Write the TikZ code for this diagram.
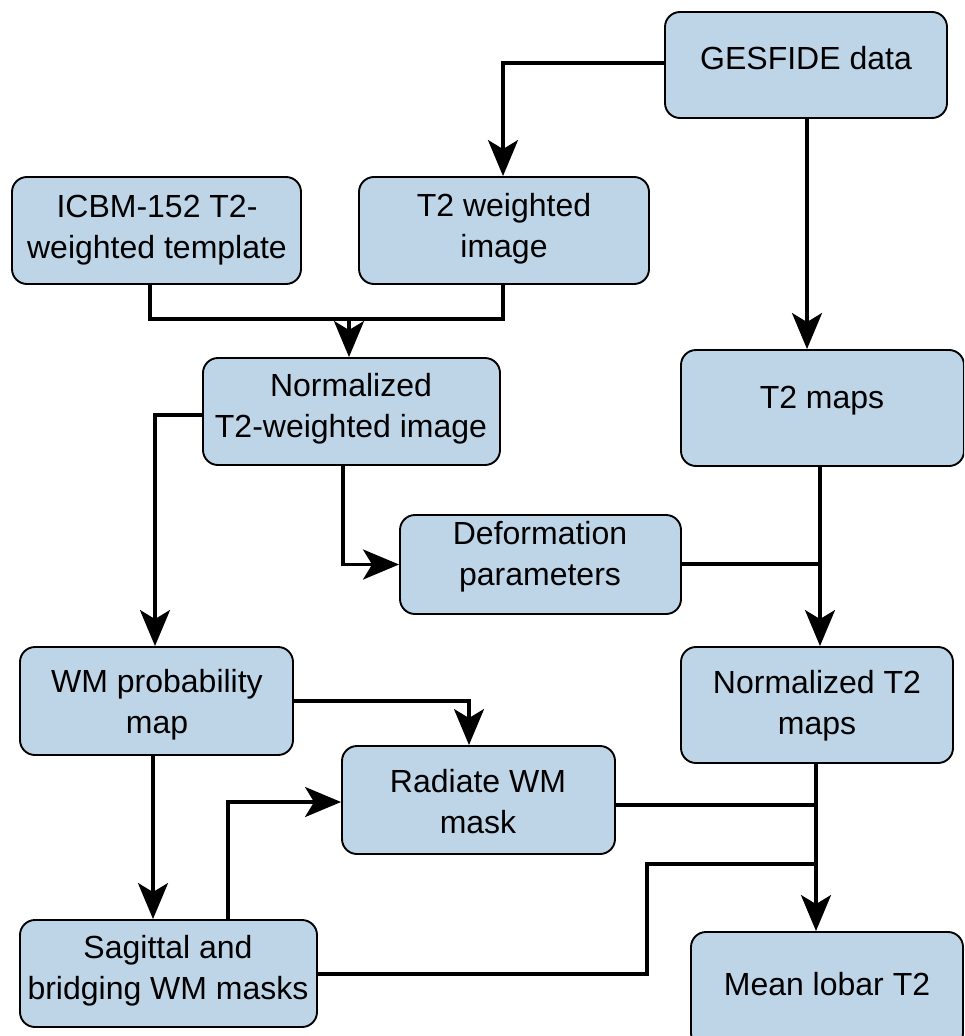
\documentclass[tikz,border=0pt]{standalone}
\usepackage{fontspec}
\setmainfont{Liberation Sans}
\usetikzlibrary{arrows.meta}
\definecolor{boxfill}{RGB}{190,213,232}
\tikzset{
  box/.style={draw=black, line width=1.9pt, fill=boxfill, rounded corners=15pt, inner sep=0pt},
  txt/.style={align=center, inner sep=0pt, font=\fontsize{32}{41}\selectfont},
  conn/.style={line width=3.2pt, draw=black},
  arr/.style={conn, -{Stealth[length=36pt, width=30pt, inset=9pt]}}
}
\begin{document}
\begin{tikzpicture}[x=1pt,y=-1pt]
\useasboundingbox (0,0) rectangle (964,1036);
\begin{scope}
\clip (0,0) rectangle (964,1036);
% boxes
\node[box, minimum width=282pt, minimum height=106pt] (ges) at (806,65) {};
\node[box, minimum width=290pt, minimum height=107pt] (t2w) at (504,230.5) {};
\node[box, minimum width=289pt, minimum height=107pt] (icbm) at (156.5,230.5) {};
\node[box, minimum width=297pt, minimum height=107pt] (norm) at (351.5,411.5) {};
\node[box, minimum width=283pt, minimum height=116pt] (t2m) at (822.5,408) {};
\node[box, minimum width=281pt, minimum height=99pt] (def) at (540.5,564.5) {};
\node[box, minimum width=273pt, minimum height=108pt] (wmp) at (156.5,701) {};
\node[box, minimum width=272pt, minimum height=116pt] (nt2) at (817,705) {};
\node[box, minimum width=273pt, minimum height=108pt] (rad) at (478.5,800) {};
\node[box, minimum width=297pt, minimum height=107pt] (sag) at (168.5,973.5) {};
\node[box, minimum width=272pt, minimum height=116pt] (mlt) at (827,990) {};
% texts
\node[txt] (gest) at (806,58) {GESFIDE data};
\node[txt] (t2wt) at (504,229) {T2 weighted\\image};
\node[txt] (icbmt) at (157,230) {ICBM-152 T2-\\weighted template};
\node[txt] (normt) at (351,409) {Normalized\\T2-weighted image};
\node[txt] (t2mt) at (822,401) {T2 maps};
\node[txt] (deft) at (540,557) {Deformation\\parameters};
\node[txt] (wmpt) at (157,705) {WM probability\\map};
\node[txt] (nt2t) at (817,706) {Normalized T2\\maps};
\node[txt] (radt) at (478,802) {Radiate WM\\mask};
\node[txt] (sagt) at (168,971) {Sagittal and\\bridging WM masks};
\node[txt] (mltt) at (827,984) {Mean lobar T2};
% junction coordinates
\coordinate (j1) at (349,319);
\coordinate (j2) at (820,564);
\coordinate (j3) at (816,805);
\coordinate (j4) at (816,864);
% connectors
\draw[arr] ([yshift=2pt]ges.west) -| (t2w.north -| 503,0);
\draw[arr] (ges.south -| 807,0) -- (t2m.north -| 807,0);
\draw[conn] (icbm.south -| 150,0) |- (j1);
\draw[conn] (t2w.south -| 503,0) |- (j1);
\draw[arr] (j1) -- (norm.north -| j1);
\draw[arr] ([yshift=-3.5pt]norm.west) -| (wmp.north -| 155,0);
\draw[arr] (norm.south -| 343,0) |- (def.west);
\draw[arr] (t2m.south -| 820,0) -- (nt2.north -| 820,0);
\draw[conn] (def.east |- j2) -- (j2);
\draw[arr] (wmp.east) -| (rad.north -| 469,0);
\draw[arr] (wmp.south -| 153,0) -- (sag.north -| 153,0);
\draw[arr] (sag.north -| 228,0) |- ([yshift=-2pt]rad.west);
\draw[arr] (nt2.south -| 816,0) -- (mlt.north -| 816,0);
\draw[conn] (rad.east |- j3) -- (j3);
\coordinate (k1) at (647,974);
\draw[conn] (sag.east |- k1) -- (k1) |- (j4);
\end{scope}
\end{tikzpicture}
\end{document}
